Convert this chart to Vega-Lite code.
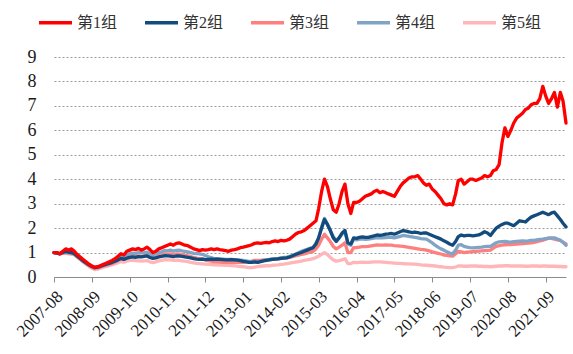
{
"$schema": "https://vega.github.io/schema/vega-lite/v6.json",
"width": 512, "height": 220,
"autosize": {"type": "none"},
"padding": {"left": 54, "top": 57, "right": 7, "bottom": 77},
"background": "white",
"config": {"view": {"stroke": null}, "font": "Liberation Serif, Times New Roman, DejaVu Serif, serif"},
"data": {"values": [
{"d":"2007-08-01","g1":1.00,"g2":1.00,"g3":1.00,"g4":1.00,"g5":1.00},
{"d":"2007-09-01","g1":1.00,"g2":0.98,"g3":0.98,"g4":0.99,"g5":0.98},
{"d":"2007-10-01","g1":0.95,"g2":0.95,"g3":0.94,"g4":0.96,"g5":0.95},
{"d":"2007-11-01","g1":1.05,"g2":1.00,"g3":0.98,"g4":1.00,"g5":0.97},
{"d":"2007-12-01","g1":1.15,"g2":1.05,"g3":1.00,"g4":1.02,"g5":0.98},
{"d":"2008-01-01","g1":1.10,"g2":1.02,"g3":0.98,"g4":1.00,"g5":0.95},
{"d":"2008-02-01","g1":1.15,"g2":1.00,"g3":0.96,"g4":0.98,"g5":0.93},
{"d":"2008-03-01","g1":1.05,"g2":0.95,"g3":0.92,"g4":0.95,"g5":0.90},
{"d":"2008-04-01","g1":0.92,"g2":0.85,"g3":0.83,"g4":0.86,"g5":0.80},
{"d":"2008-05-01","g1":0.82,"g2":0.76,"g3":0.74,"g4":0.77,"g5":0.71},
{"d":"2008-06-01","g1":0.72,"g2":0.66,"g3":0.64,"g4":0.67,"g5":0.61},
{"d":"2008-07-01","g1":0.62,"g2":0.58,"g3":0.55,"g4":0.58,"g5":0.52},
{"d":"2008-08-01","g1":0.52,"g2":0.50,"g3":0.47,"g4":0.50,"g5":0.43},
{"d":"2008-09-01","g1":0.45,"g2":0.43,"g3":0.40,"g4":0.43,"g5":0.36},
{"d":"2008-10-01","g1":0.40,"g2":0.38,"g3":0.35,"g4":0.38,"g5":0.30},
{"d":"2008-11-01","g1":0.42,"g2":0.40,"g3":0.37,"g4":0.40,"g5":0.32},
{"d":"2008-12-01","g1":0.47,"g2":0.44,"g3":0.41,"g4":0.44,"g5":0.36},
{"d":"2009-01-01","g1":0.52,"g2":0.48,"g3":0.45,"g4":0.49,"g5":0.40},
{"d":"2009-02-01","g1":0.57,"g2":0.52,"g3":0.48,"g4":0.53,"g5":0.43},
{"d":"2009-03-01","g1":0.62,"g2":0.56,"g3":0.51,"g4":0.57,"g5":0.47},
{"d":"2009-04-01","g1":0.68,"g2":0.60,"g3":0.55,"g4":0.62,"g5":0.50},
{"d":"2009-05-01","g1":0.75,"g2":0.65,"g3":0.61,"g4":0.68,"g5":0.54},
{"d":"2009-06-01","g1":0.85,"g2":0.70,"g3":0.67,"g4":0.75,"g5":0.58},
{"d":"2009-07-01","g1":0.95,"g2":0.76,"g3":0.74,"g4":0.84,"g5":0.63},
{"d":"2009-08-01","g1":0.90,"g2":0.72,"g3":0.72,"g4":0.82,"g5":0.61},
{"d":"2009-09-01","g1":1.05,"g2":0.77,"g3":0.80,"g4":0.90,"g5":0.65},
{"d":"2009-10-01","g1":1.10,"g2":0.80,"g3":0.85,"g4":0.95,"g5":0.68},
{"d":"2009-11-01","g1":1.15,"g2":0.82,"g3":0.87,"g4":0.98,"g5":0.69},
{"d":"2009-12-01","g1":1.12,"g2":0.80,"g3":0.85,"g4":0.96,"g5":0.67},
{"d":"2010-01-01","g1":1.17,"g2":0.83,"g3":0.86,"g4":1.00,"g5":0.66},
{"d":"2010-02-01","g1":1.10,"g2":0.82,"g3":0.85,"g4":1.00,"g5":0.65},
{"d":"2010-03-01","g1":1.15,"g2":0.84,"g3":0.86,"g4":0.99,"g5":0.66},
{"d":"2010-04-01","g1":1.22,"g2":0.86,"g3":0.88,"g4":1.02,"g5":0.67},
{"d":"2010-05-01","g1":1.12,"g2":0.80,"g3":0.82,"g4":0.95,"g5":0.62},
{"d":"2010-06-01","g1":1.00,"g2":0.76,"g3":0.78,"g4":0.90,"g5":0.59},
{"d":"2010-07-01","g1":1.05,"g2":0.78,"g3":0.82,"g4":0.95,"g5":0.62},
{"d":"2010-08-01","g1":1.15,"g2":0.82,"g3":0.88,"g4":1.00,"g5":0.66},
{"d":"2010-09-01","g1":1.20,"g2":0.84,"g3":0.90,"g4":1.03,"g5":0.68},
{"d":"2010-10-01","g1":1.25,"g2":0.87,"g3":0.95,"g4":1.08,"g5":0.71},
{"d":"2010-11-01","g1":1.30,"g2":0.86,"g3":0.94,"g4":1.07,"g5":0.70},
{"d":"2010-12-01","g1":1.35,"g2":0.85,"g3":0.95,"g4":1.10,"g5":0.70},
{"d":"2011-01-01","g1":1.30,"g2":0.83,"g3":0.92,"g4":1.06,"g5":0.68},
{"d":"2011-02-01","g1":1.38,"g2":0.86,"g3":0.94,"g4":1.09,"g5":0.69},
{"d":"2011-03-01","g1":1.40,"g2":0.86,"g3":0.94,"g4":1.10,"g5":0.68},
{"d":"2011-04-01","g1":1.35,"g2":0.84,"g3":0.92,"g4":1.07,"g5":0.66},
{"d":"2011-05-01","g1":1.30,"g2":0.82,"g3":0.90,"g4":1.05,"g5":0.65},
{"d":"2011-06-01","g1":1.28,"g2":0.80,"g3":0.87,"g4":1.03,"g5":0.63},
{"d":"2011-07-01","g1":1.22,"g2":0.78,"g3":0.84,"g4":1.00,"g5":0.60},
{"d":"2011-08-01","g1":1.15,"g2":0.75,"g3":0.80,"g4":0.97,"g5":0.58},
{"d":"2011-09-01","g1":1.12,"g2":0.73,"g3":0.77,"g4":0.96,"g5":0.56},
{"d":"2011-10-01","g1":1.08,"g2":0.72,"g3":0.75,"g4":0.95,"g5":0.55},
{"d":"2011-11-01","g1":1.12,"g2":0.73,"g3":0.74,"g4":0.93,"g5":0.54},
{"d":"2011-12-01","g1":1.10,"g2":0.71,"g3":0.70,"g4":0.88,"g5":0.53},
{"d":"2012-01-01","g1":1.12,"g2":0.72,"g3":0.67,"g4":0.83,"g5":0.52},
{"d":"2012-02-01","g1":1.15,"g2":0.73,"g3":0.65,"g4":0.79,"g5":0.51},
{"d":"2012-03-01","g1":1.12,"g2":0.72,"g3":0.62,"g4":0.75,"g5":0.50},
{"d":"2012-04-01","g1":1.15,"g2":0.73,"g3":0.62,"g4":0.75,"g5":0.50},
{"d":"2012-05-01","g1":1.12,"g2":0.72,"g3":0.61,"g4":0.74,"g5":0.49},
{"d":"2012-06-01","g1":1.10,"g2":0.71,"g3":0.60,"g4":0.73,"g5":0.49},
{"d":"2012-07-01","g1":1.08,"g2":0.70,"g3":0.60,"g4":0.72,"g5":0.48},
{"d":"2012-08-01","g1":1.05,"g2":0.70,"g3":0.60,"g4":0.72,"g5":0.48},
{"d":"2012-09-01","g1":1.10,"g2":0.71,"g3":0.61,"g4":0.72,"g5":0.47},
{"d":"2012-10-01","g1":1.12,"g2":0.70,"g3":0.60,"g4":0.71,"g5":0.46},
{"d":"2012-11-01","g1":1.15,"g2":0.69,"g3":0.60,"g4":0.70,"g5":0.44},
{"d":"2012-12-01","g1":1.20,"g2":0.67,"g3":0.60,"g4":0.69,"g5":0.43},
{"d":"2013-01-01","g1":1.22,"g2":0.64,"g3":0.60,"g4":0.68,"g5":0.42},
{"d":"2013-02-01","g1":1.25,"g2":0.62,"g3":0.62,"g4":0.66,"g5":0.40},
{"d":"2013-03-01","g1":1.28,"g2":0.60,"g3":0.63,"g4":0.64,"g5":0.38},
{"d":"2013-04-01","g1":1.32,"g2":0.60,"g3":0.65,"g4":0.63,"g5":0.38},
{"d":"2013-05-01","g1":1.38,"g2":0.62,"g3":0.68,"g4":0.62,"g5":0.40},
{"d":"2013-06-01","g1":1.40,"g2":0.60,"g3":0.68,"g4":0.62,"g5":0.42},
{"d":"2013-07-01","g1":1.38,"g2":0.63,"g3":0.68,"g4":0.64,"g5":0.44},
{"d":"2013-08-01","g1":1.40,"g2":0.66,"g3":0.70,"g4":0.67,"g5":0.45},
{"d":"2013-09-01","g1":1.42,"g2":0.68,"g3":0.71,"g4":0.70,"g5":0.46},
{"d":"2013-10-01","g1":1.40,"g2":0.70,"g3":0.71,"g4":0.72,"g5":0.46},
{"d":"2013-11-01","g1":1.45,"g2":0.72,"g3":0.72,"g4":0.74,"g5":0.48},
{"d":"2013-12-01","g1":1.48,"g2":0.73,"g3":0.73,"g4":0.75,"g5":0.49},
{"d":"2014-01-01","g1":1.45,"g2":0.74,"g3":0.74,"g4":0.76,"g5":0.50},
{"d":"2014-02-01","g1":1.50,"g2":0.76,"g3":0.76,"g4":0.78,"g5":0.52},
{"d":"2014-03-01","g1":1.48,"g2":0.77,"g3":0.77,"g4":0.80,"g5":0.53},
{"d":"2014-04-01","g1":1.50,"g2":0.78,"g3":0.78,"g4":0.81,"g5":0.55},
{"d":"2014-05-01","g1":1.55,"g2":0.82,"g3":0.80,"g4":0.84,"g5":0.57},
{"d":"2014-06-01","g1":1.65,"g2":0.87,"g3":0.83,"g4":0.87,"g5":0.59},
{"d":"2014-07-01","g1":1.75,"g2":0.92,"g3":0.86,"g4":0.93,"g5":0.61},
{"d":"2014-08-01","g1":1.82,"g2":0.96,"g3":0.89,"g4":0.99,"g5":0.63},
{"d":"2014-09-01","g1":1.85,"g2":1.00,"g3":0.92,"g4":1.05,"g5":0.65},
{"d":"2014-10-01","g1":1.90,"g2":1.05,"g3":0.95,"g4":1.09,"g5":0.68},
{"d":"2014-11-01","g1":2.00,"g2":1.10,"g3":0.98,"g4":1.13,"g5":0.70},
{"d":"2014-12-01","g1":2.10,"g2":1.15,"g3":1.02,"g4":1.17,"g5":0.72},
{"d":"2015-01-01","g1":2.20,"g2":1.20,"g3":1.05,"g4":1.20,"g5":0.75},
{"d":"2015-02-01","g1":2.30,"g2":1.35,"g3":1.15,"g4":1.38,"g5":0.80},
{"d":"2015-03-01","g1":2.80,"g2":1.60,"g3":1.30,"g4":1.60,"g5":0.85},
{"d":"2015-04-01","g1":3.50,"g2":2.00,"g3":1.55,"g4":2.05,"g5":0.93},
{"d":"2015-05-01","g1":4.00,"g2":2.35,"g3":1.75,"g4":2.40,"g5":1.00},
{"d":"2015-06-01","g1":3.70,"g2":2.15,"g3":1.60,"g4":2.15,"g5":0.92},
{"d":"2015-07-01","g1":3.20,"g2":1.90,"g3":1.45,"g4":1.90,"g5":0.80},
{"d":"2015-08-01","g1":2.75,"g2":1.60,"g3":1.25,"g4":1.65,"g5":0.70},
{"d":"2015-09-01","g1":2.65,"g2":1.45,"g3":1.15,"g4":1.50,"g5":0.65},
{"d":"2015-10-01","g1":3.00,"g2":1.60,"g3":1.22,"g4":1.60,"g5":0.67},
{"d":"2015-11-01","g1":3.50,"g2":1.80,"g3":1.30,"g4":1.75,"g5":0.70},
{"d":"2015-12-01","g1":3.80,"g2":1.90,"g3":1.40,"g4":1.90,"g5":0.75},
{"d":"2016-01-01","g1":3.00,"g2":1.40,"g3":1.00,"g4":1.35,"g5":0.55},
{"d":"2016-02-01","g1":2.60,"g2":1.35,"g3":1.00,"g4":1.30,"g5":0.55},
{"d":"2016-03-01","g1":3.05,"g2":1.60,"g3":1.20,"g4":1.55,"g5":0.60},
{"d":"2016-04-01","g1":3.05,"g2":1.58,"g3":1.20,"g4":1.52,"g5":0.59},
{"d":"2016-05-01","g1":3.10,"g2":1.62,"g3":1.22,"g4":1.55,"g5":0.60},
{"d":"2016-06-01","g1":3.20,"g2":1.64,"g3":1.24,"g4":1.56,"g5":0.61},
{"d":"2016-07-01","g1":3.30,"g2":1.62,"g3":1.24,"g4":1.54,"g5":0.60},
{"d":"2016-08-01","g1":3.35,"g2":1.62,"g3":1.25,"g4":1.55,"g5":0.60},
{"d":"2016-09-01","g1":3.40,"g2":1.65,"g3":1.27,"g4":1.57,"g5":0.61},
{"d":"2016-10-01","g1":3.50,"g2":1.68,"g3":1.29,"g4":1.59,"g5":0.62},
{"d":"2016-11-01","g1":3.55,"g2":1.72,"g3":1.31,"g4":1.61,"g5":0.62},
{"d":"2016-12-01","g1":3.45,"g2":1.70,"g3":1.30,"g4":1.60,"g5":0.62},
{"d":"2017-01-01","g1":3.50,"g2":1.72,"g3":1.30,"g4":1.60,"g5":0.61},
{"d":"2017-02-01","g1":3.45,"g2":1.75,"g3":1.31,"g4":1.61,"g5":0.60},
{"d":"2017-03-01","g1":3.40,"g2":1.76,"g3":1.30,"g4":1.62,"g5":0.59},
{"d":"2017-04-01","g1":3.35,"g2":1.78,"g3":1.30,"g4":1.62,"g5":0.58},
{"d":"2017-05-01","g1":3.30,"g2":1.75,"g3":1.28,"g4":1.60,"g5":0.57},
{"d":"2017-06-01","g1":3.50,"g2":1.80,"g3":1.27,"g4":1.63,"g5":0.56},
{"d":"2017-07-01","g1":3.70,"g2":1.85,"g3":1.26,"g4":1.66,"g5":0.56},
{"d":"2017-08-01","g1":3.85,"g2":1.90,"g3":1.25,"g4":1.70,"g5":0.55},
{"d":"2017-09-01","g1":3.95,"g2":1.88,"g3":1.23,"g4":1.68,"g5":0.54},
{"d":"2017-10-01","g1":4.05,"g2":1.85,"g3":1.21,"g4":1.66,"g5":0.54},
{"d":"2017-11-01","g1":4.10,"g2":1.82,"g3":1.19,"g4":1.64,"g5":0.53},
{"d":"2017-12-01","g1":4.10,"g2":1.84,"g3":1.17,"g4":1.62,"g5":0.53},
{"d":"2018-01-01","g1":4.15,"g2":1.82,"g3":1.15,"g4":1.60,"g5":0.52},
{"d":"2018-02-01","g1":4.00,"g2":1.78,"g3":1.13,"g4":1.57,"g5":0.50},
{"d":"2018-03-01","g1":3.85,"g2":1.80,"g3":1.12,"g4":1.56,"g5":0.49},
{"d":"2018-04-01","g1":3.75,"g2":1.80,"g3":1.10,"g4":1.55,"g5":0.48},
{"d":"2018-05-01","g1":3.80,"g2":1.75,"g3":1.07,"g4":1.48,"g5":0.47},
{"d":"2018-06-01","g1":3.60,"g2":1.70,"g3":1.03,"g4":1.40,"g5":0.46},
{"d":"2018-07-01","g1":3.50,"g2":1.65,"g3":1.00,"g4":1.30,"g5":0.45},
{"d":"2018-08-01","g1":3.35,"g2":1.60,"g3":0.97,"g4":1.22,"g5":0.43},
{"d":"2018-09-01","g1":3.20,"g2":1.55,"g3":0.94,"g4":1.15,"g5":0.42},
{"d":"2018-10-01","g1":3.00,"g2":1.48,"g3":0.90,"g4":1.10,"g5":0.40},
{"d":"2018-11-01","g1":2.95,"g2":1.42,"g3":0.88,"g4":1.03,"g5":0.39},
{"d":"2018-12-01","g1":3.00,"g2":1.35,"g3":0.86,"g4":0.98,"g5":0.38},
{"d":"2019-01-01","g1":2.95,"g2":1.30,"g3":0.85,"g4":0.95,"g5":0.38},
{"d":"2019-02-01","g1":3.40,"g2":1.45,"g3":0.95,"g4":1.10,"g5":0.41},
{"d":"2019-03-01","g1":3.95,"g2":1.65,"g3":1.05,"g4":1.30,"g5":0.45},
{"d":"2019-04-01","g1":4.00,"g2":1.72,"g3":1.03,"g4":1.32,"g5":0.45},
{"d":"2019-05-01","g1":3.80,"g2":1.68,"g3":1.00,"g4":1.25,"g5":0.44},
{"d":"2019-06-01","g1":3.90,"g2":1.70,"g3":1.02,"g4":1.22,"g5":0.44},
{"d":"2019-07-01","g1":4.00,"g2":1.70,"g3":1.03,"g4":1.20,"g5":0.45},
{"d":"2019-08-01","g1":4.00,"g2":1.68,"g3":1.04,"g4":1.19,"g5":0.45},
{"d":"2019-09-01","g1":3.95,"g2":1.70,"g3":1.05,"g4":1.20,"g5":0.45},
{"d":"2019-10-01","g1":4.00,"g2":1.72,"g3":1.06,"g4":1.21,"g5":0.44},
{"d":"2019-11-01","g1":4.05,"g2":1.78,"g3":1.07,"g4":1.22,"g5":0.44},
{"d":"2019-12-01","g1":4.15,"g2":1.85,"g3":1.08,"g4":1.24,"g5":0.43},
{"d":"2020-01-01","g1":4.10,"g2":1.80,"g3":1.09,"g4":1.25,"g5":0.43},
{"d":"2020-02-01","g1":4.15,"g2":1.70,"g3":1.10,"g4":1.25,"g5":0.42},
{"d":"2020-03-01","g1":4.35,"g2":1.85,"g3":1.18,"g4":1.33,"g5":0.43},
{"d":"2020-04-01","g1":4.40,"g2":2.00,"g3":1.25,"g4":1.40,"g5":0.44},
{"d":"2020-05-01","g1":4.60,"g2":2.08,"g3":1.28,"g4":1.44,"g5":0.45},
{"d":"2020-06-01","g1":5.50,"g2":2.15,"g3":1.30,"g4":1.45,"g5":0.45},
{"d":"2020-07-01","g1":6.10,"g2":2.20,"g3":1.32,"g4":1.46,"g5":0.46},
{"d":"2020-08-01","g1":5.75,"g2":2.20,"g3":1.33,"g4":1.44,"g5":0.46},
{"d":"2020-09-01","g1":6.00,"g2":2.15,"g3":1.33,"g4":1.43,"g5":0.45},
{"d":"2020-10-01","g1":6.30,"g2":2.10,"g3":1.34,"g4":1.45,"g5":0.45},
{"d":"2020-11-01","g1":6.50,"g2":2.20,"g3":1.35,"g4":1.46,"g5":0.45},
{"d":"2020-12-01","g1":6.60,"g2":2.30,"g3":1.36,"g4":1.47,"g5":0.45},
{"d":"2021-01-01","g1":6.70,"g2":2.28,"g3":1.37,"g4":1.48,"g5":0.45},
{"d":"2021-02-01","g1":6.85,"g2":2.25,"g3":1.38,"g4":1.47,"g5":0.44},
{"d":"2021-03-01","g1":6.90,"g2":2.35,"g3":1.39,"g4":1.48,"g5":0.44},
{"d":"2021-04-01","g1":7.05,"g2":2.45,"g3":1.40,"g4":1.50,"g5":0.45},
{"d":"2021-05-01","g1":7.10,"g2":2.50,"g3":1.42,"g4":1.50,"g5":0.45},
{"d":"2021-06-01","g1":7.10,"g2":2.55,"g3":1.45,"g4":1.52,"g5":0.45},
{"d":"2021-07-01","g1":7.30,"g2":2.60,"g3":1.48,"g4":1.54,"g5":0.44},
{"d":"2021-08-01","g1":7.80,"g2":2.65,"g3":1.50,"g4":1.55,"g5":0.45},
{"d":"2021-09-01","g1":7.40,"g2":2.60,"g3":1.55,"g4":1.57,"g5":0.45},
{"d":"2021-10-01","g1":7.10,"g2":2.55,"g3":1.60,"g4":1.58,"g5":0.44},
{"d":"2021-11-01","g1":7.30,"g2":2.62,"g3":1.58,"g4":1.60,"g5":0.44},
{"d":"2021-12-01","g1":7.55,"g2":2.65,"g3":1.55,"g4":1.60,"g5":0.44},
{"d":"2022-01-01","g1":6.95,"g2":2.50,"g3":1.52,"g4":1.55,"g5":0.43},
{"d":"2022-02-01","g1":7.55,"g2":2.35,"g3":1.50,"g4":1.50,"g5":0.43},
{"d":"2022-03-01","g1":7.20,"g2":2.20,"g3":1.42,"g4":1.42,"g5":0.42},
{"d":"2022-04-01","g1":6.30,"g2":2.05,"g3":1.35,"g4":1.30,"g5":0.42}
]},
"transform": [{"fold": ["g5", "g3", "g4", "g2", "g1"], "as": ["grp", "val"]}],
"mark": {"type": "line", "strokeWidth": 3.3, "strokeJoin": "round", "strokeCap": "round"},
"encoding": {
  "x": {"field": "d", "type": "temporal",
    "scale": {"type": "utc", "domain": [{"year": 2007, "month": 8, "date": 1, "utc": true}, {"year": 2022, "month": 4, "date": 1, "utc": true}]},
    "axis": {"title": null, "grid": false, "format": "%Y-%m", "labelAngle": -45, "labelFontSize": 17, "labelColor": "#1a1a1a", "labelFont": "Liberation Serif, Times New Roman, DejaVu Serif, serif", "labelPadding": 6, "labelOverlap": false, "labelFlush": false, "domainColor": "#8c8c8c", "tickColor": "#8c8c8c", "tickSize": 5,
      "values": [
        {"year": 2007, "month": 8, "date": 1, "utc": true},
        {"year": 2008, "month": 9, "date": 1, "utc": true},
        {"year": 2009, "month": 10, "date": 1, "utc": true},
        {"year": 2010, "month": 11, "date": 1, "utc": true},
        {"year": 2011, "month": 12, "date": 1, "utc": true},
        {"year": 2013, "month": 1, "date": 1, "utc": true},
        {"year": 2014, "month": 2, "date": 1, "utc": true},
        {"year": 2015, "month": 3, "date": 1, "utc": true},
        {"year": 2016, "month": 4, "date": 1, "utc": true},
        {"year": 2017, "month": 5, "date": 1, "utc": true},
        {"year": 2018, "month": 6, "date": 1, "utc": true},
        {"year": 2019, "month": 7, "date": 1, "utc": true},
        {"year": 2020, "month": 8, "date": 1, "utc": true},
        {"year": 2021, "month": 9, "date": 1, "utc": true}
      ]}},
  "y": {"field": "val", "type": "quantitative",
    "scale": {"domain": [0, 9], "nice": false},
    "axis": {"title": null, "values": [0,1,2,3,4,5,6,7,8,9], "grid": true, "gridDash": [2, 2], "gridColor": "#9a9a9a", "domain": false, "ticks": false, "labelFontSize": 18, "labelColor": "#1a1a1a", "labelFont": "Liberation Serif, Times New Roman, DejaVu Serif, serif", "labelPadding": 18}},
  "color": {"field": "grp", "type": "nominal",
    "scale": {"domain": ["g1", "g2", "g3", "g4", "g5"], "range": ["#ff0000", "#124b7c", "#ff7f7f", "#7fa4c6", "#ffb6b9"]},
    "legend": {"orient": "none", "legendX": -17, "legendY": -53, "direction": "horizontal", "columns": 5, "title": null, "symbolType": "stroke", "symbolSize": 1089, "symbolStrokeWidth": 3.3, "labelFontSize": 16, "labelFont": "Liberation Serif, Times New Roman, Noto Sans CJK SC, serif", "labelColor": "#333333", "labelOffset": 3, "columnPadding": 20, "labelExpr": "'第' + substring(datum.label, 1) + '组'"}}
}
}
